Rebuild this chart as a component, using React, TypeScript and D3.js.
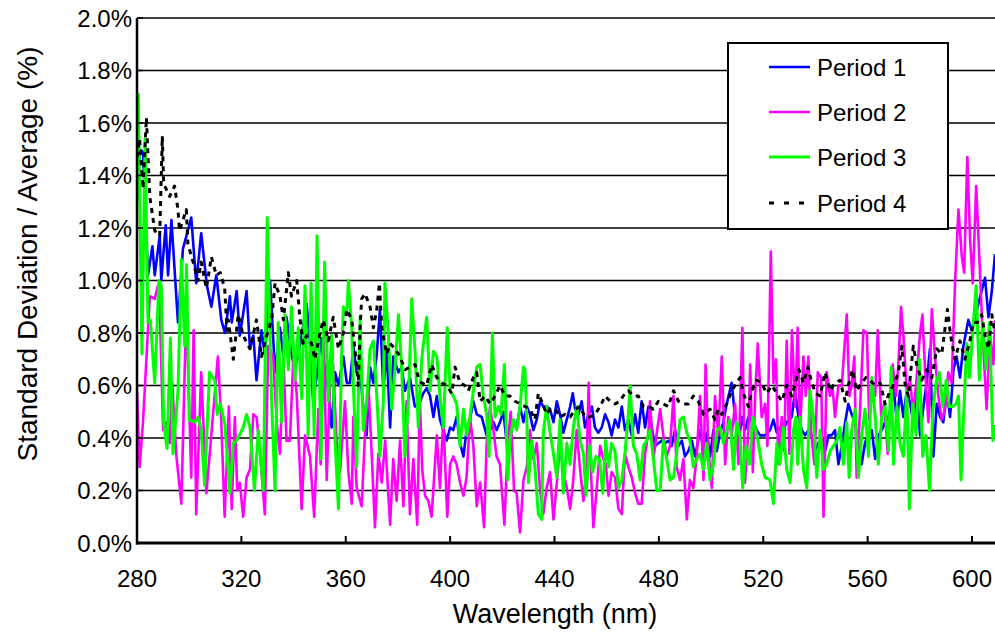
import React from "react";
import * as d3 from "d3";

type Pt = [number, number];

// Period 1 (blue)  [wavelength nm, std/avg %]
const period1: Pt[] = [
[280,1.30],[281,1.50],[282.3,1.49],[284.2,1.02],[285.9,1.13],[286.8,1.02],[288.7,1.17],[289.3,1.00],[291,1.21],[291.9,1.02],[293.2,1.23],[295.7,0.84],[297.6,1.12],[300.8,1.24],[302.7,0.99],[304.6,1.18],[306.8,0.98],[308.5,0.90],[310.4,1.02],[312.3,0.85],[313.7,0.80],[315.6,0.94],[316.3,0.84],[318.2,0.96],[319.4,0.79],[322.0,0.96],[323.3,0.74],[324.6,0.79],[325.8,0.62],[327.7,0.81],[329.0,0.72],[331.0,1.00],[332.9,0.65],[334.8,0.82],[336.1,0.71],[337.3,0.86],[339.2,0.72],[340.5,0.66],[342.4,0.75],[345.0,0.91],[346.3,0.76],[347.5,0.54],[348.8,0.63],[350.5,0.78],[351.4,0.70],[352.7,0.63],[354.6,0.44],[355.9,0.65],[357.2,0.60],[359.1,0.71],[360.4,0.61],[361.6,0.61],[362.9,0.75],[364.2,0.65],[365.5,0.65],[366.7,0.52],[368.0,0.41],[369.3,0.67],[370.6,0.61],[371.9,0.72],[373.1,0.89],[374.4,0.58],[375.7,0.74],[377.0,0.44],[378.2,0.71],[380.2,0.65],[381.4,0.67],[382.7,0.58],[384.6,0.63],[386.5,0.52],[387.8,0.52],[389.7,0.57],[391.0,0.59],[392.3,0.56],[393.6,0.48],[394.9,0.56],[396.1,0.47],[397.4,0.43],[398.7,0.39],[400.0,0.44],[401.2,0.43],[402.5,0.48],[403.8,0.38],[405.1,0.33],[406.3,0.43],[407.6,0.47],[408.9,0.54],[410.2,0.49],[412.1,0.48],[414.0,0.41],[415.3,0.43],[416.6,0.46],[417.8,0.43],[419.1,0.46],[420.4,0.50],[421.7,0.38],[422.9,0.41],[424.3,0.46],[425.5,0.44],[426.8,0.52],[428.1,0.46],[429.4,0.52],[430.6,0.49],[431.9,0.43],[433.2,0.47],[434.5,0.54],[435.7,0.52],[437.0,0.52],[438.3,0.51],[439.6,0.46],[440.9,0.54],[442.1,0.49],[443.4,0.42],[444.7,0.47],[446.0,0.52],[447.0,0.57],[447.9,0.51],[449.2,0.49],[450.4,0.54],[451.7,0.44],[453.0,0.49],[454.3,0.52],[455.5,0.44],[456.8,0.42],[458.1,0.44],[459.4,0.49],[460.7,0.46],[461.9,0.41],[463.2,0.47],[464.5,0.44],[465.8,0.52],[467.0,0.43],[468.3,0.47],[469.6,0.41],[470.9,0.49],[472.1,0.42],[473.4,0.54],[474.7,0.44],[476.0,0.52],[477.3,0.44],[478.5,0.37],[479.8,0.38],[481.1,0.39],[482.4,0.38],[483.6,0.39],[484.9,0.37],[486.2,0.43],[487.5,0.37],[488.8,0.39],[490.0,0.33],[491.3,0.35],[492.6,0.39],[493.9,0.33],[495.8,0.43],[497.1,0.35],[498.3,0.42],[499.6,0.33],[500.9,0.43],[502.2,0.35],[503.5,0.42],[504.7,0.46],[506.0,0.53],[507.9,0.61],[509.2,0.48],[510.5,0.38],[511.8,0.48],[513.0,0.43],[514.3,0.48],[516.2,0.46],[517.5,0.43],[518.8,0.41],[520.7,0.41],[522.6,0.43],[523.9,0.47],[525.2,0.42],[526.4,0.44],[527.7,0.43],[529.0,0.46],[530.9,0.48],[532.2,0.58],[533.5,0.48],[534.8,0.43],[536.0,0.41],[537.3,0.43],[538.6,0.41],[539.9,0.35],[541.1,0.38],[542.4,0.41],[543.7,0.35],[545.0,0.41],[546.2,0.41],[547.5,0.43],[548.8,0.30],[550.1,0.37],[551.4,0.46],[552.6,0.53],[553.9,0.49],[555.2,0.46],[556.5,0.37],[557.7,0.30],[559.0,0.38],[560.3,0.42],[561.6,0.43],[562.9,0.32],[564.1,0.41],[565.4,0.43],[566.7,0.46],[568.0,0.48],[569.2,0.53],[569.9,0.60],[571.2,0.46],[572.4,0.58],[573.7,0.48],[575.0,0.58],[576.3,0.53],[577.5,0.46],[578.8,0.58],[580.1,0.41],[581.4,0.52],[582.6,0.61],[583.9,0.74],[585.2,0.33],[586.5,0.53],[587.8,0.48],[589.0,0.46],[590.3,0.58],[591.6,0.48],[592.9,0.66],[594.1,0.71],[595.4,0.63],[596.7,0.75],[598.6,0.85],[599.9,0.81],[601.2,0.86],[602.4,0.91],[603.7,0.96],[605.0,1.01],[606.3,0.86],[607.6,0.96],[608.8,1.10]
];

// Period 2 (magenta)
const period2: Pt[] = [
[280,0.58],[281,0.29],[282.3,0.46],[284.9,0.94],[286.8,0.93],[288.0,0.98],[288.7,0.90],[290.0,0.43],[291.2,0.46],[292.5,0.38],[293.5,0.61],[295.1,0.33],[297.0,0.15],[298.9,0.90],[300.8,0.25],[301.7,0.81],[302.7,0.11],[304.6,0.65],[306.6,0.19],[311.0,0.71],[312.3,0.46],[313.6,0.10],[315.2,0.52],[316.3,0.13],[317.5,0.48],[318.4,0.20],[319.4,0.23],[320.7,0.10],[322.0,0.25],[323.3,0.28],[324.6,0.49],[325.8,0.48],[327.1,0.35],[329.0,0.11],[330.3,0.75],[332.2,0.71],[333.5,0.46],[334.8,0.34],[336.1,0.71],[337.3,0.39],[338.6,0.39],[339.9,0.70],[341.2,0.57],[343.1,0.13],[344.4,0.41],[346.3,0.33],[347.9,0.10],[349.5,0.51],[350.4,0.30],[351.6,0.79],[352.7,0.24],[354.6,0.79],[356.5,0.39],[357.8,0.27],[359.7,0.54],[361.0,0.27],[362.3,0.15],[362.9,0.48],[364.2,0.21],[366.1,0.14],[367.4,0.42],[368.7,0.60],[369.9,0.35],[371.2,0.06],[372.5,0.34],[373.8,0.23],[375.1,0.39],[377.0,0.07],[378.2,0.32],[379.5,0.16],[380.8,0.39],[382.1,0.14],[383.3,0.54],[384.6,0.11],[385.9,0.32],[387.4,0.07],[388.4,0.55],[389.3,0.28],[390.4,0.18],[391.7,0.16],[392.9,0.10],[394.9,0.41],[396.1,0.21],[397.4,0.48],[398.9,0.10],[400.0,0.30],[401.2,0.33],[402.5,0.30],[403.8,0.23],[405.1,0.18],[406.3,0.25],[407.6,0.48],[408.9,0.37],[410.2,0.14],[411.5,0.23],[413.0,0.06],[414.0,0.38],[415.3,0.52],[416.6,0.43],[417.8,0.33],[419.1,0.30],[420.8,0.07],[422.1,0.38],[423.2,0.50],[424.5,0.20],[425.5,0.19],[426.8,0.04],[428.1,0.24],[429.4,0.29],[430.6,0.43],[431.9,0.32],[433.2,0.38],[434.5,0.20],[435.7,0.11],[437.0,0.21],[438.3,0.27],[439.6,0.09],[440.9,0.23],[442.1,0.37],[443.4,0.27],[444.7,0.21],[446.0,0.13],[447.2,0.24],[448.5,0.43],[449.8,0.28],[451.1,0.16],[452.3,0.29],[453.1,0.61],[453.9,0.29],[454.9,0.06],[456.2,0.21],[457.5,0.37],[458.7,0.32],[459.7,0.30],[460.7,0.18],[461.9,0.27],[463.2,0.25],[464.5,0.13],[465.8,0.11],[467.0,0.34],[468.3,0.29],[469.6,0.25],[470.9,0.19],[472.1,0.15],[473.4,0.15],[474.7,0.34],[476.0,0.42],[476.6,0.54],[477.9,0.32],[479.2,0.42],[480.5,0.51],[481.7,0.41],[483.0,0.33],[484.3,0.37],[485.6,0.56],[486.8,0.29],[488.1,0.24],[489.4,0.32],[490.7,0.09],[491.9,0.24],[493.2,0.21],[494.5,0.33],[495.8,0.56],[497.1,0.24],[497.9,0.68],[499.0,0.35],[500.3,0.21],[501.5,0.56],[502.8,0.41],[504.1,0.71],[505.4,0.30],[506.6,0.48],[507.9,0.41],[509.2,0.53],[510.5,0.30],[512.0,0.82],[513.0,0.23],[514.3,0.43],[515.0,0.68],[516.0,0.27],[516.9,0.56],[517.9,0.76],[519.4,0.48],[520.7,0.53],[521.6,0.37],[522.9,1.11],[523.9,0.61],[524.9,0.70],[525.8,0.30],[527.1,0.48],[528.0,0.35],[529.0,0.77],[530.0,0.34],[531.0,0.81],[532.2,0.52],[533.2,0.82],[534.1,0.43],[535.4,0.71],[536.3,0.56],[537.3,0.71],[538.3,0.43],[539.6,0.30],[540.9,0.65],[542.2,0.63],[543.1,0.10],[544.3,0.65],[545.6,0.56],[546.5,0.60],[547.5,0.48],[548.8,0.60],[550.1,0.60],[552.0,0.87],[553.0,0.56],[553.9,0.60],[554.9,0.71],[555.8,0.25],[557.1,0.51],[558.4,0.81],[559.7,0.80],[560.6,0.47],[561.8,0.58],[562.9,0.56],[563.9,0.81],[565.2,0.48],[566.4,0.53],[567.7,0.34],[568.6,0.50],[569.6,0.68],[570.9,0.56],[571.8,0.68],[572.8,0.90],[573.7,0.79],[575.0,0.58],[576.3,0.62],[577.5,0.49],[578.8,0.63],[580.1,0.80],[581.0,0.87],[582.0,0.66],[583.3,0.46],[584.6,0.89],[585.8,0.71],[587.1,0.56],[588.4,0.47],[589.7,0.51],[590.9,0.65],[592.2,0.61],[593.5,0.99],[594.8,1.27],[596.1,1.09],[597.0,1.03],[598.2,1.47],[599.3,1.15],[600.3,0.99],[601.6,1.36],[602.8,1.09],[604.1,0.79],[605.6,0.51],[606.9,0.79],[608.2,0.68],[608.8,0.85]
];

// Period 3 (green)
const period3: Pt[] = [
[280,1.30],[280.5,1.71],[281.9,0.72],[283.1,1.54],[284.2,0.84],[285.1,0.85],[286.8,0.61],[288.4,1.00],[289.3,0.98],[290.2,0.46],[291.5,0.36],[292.8,0.78],[293.8,0.34],[295.7,0.58],[297.0,1.08],[298.3,0.75],[299.0,1.06],[300.0,0.47],[302.1,0.46],[303.4,0.48],[304.6,0.43],[305.9,0.22],[307.8,0.65],[309.8,0.62],[310.7,0.49],[311.9,0.53],[313.7,0.45],[315.6,0.19],[316.9,0.38],[318.2,0.39],[320.7,0.44],[322.0,0.49],[323.3,0.44],[325.0,0.20],[326.5,0.43],[328.4,0.20],[329.9,1.24],[331.6,0.54],[332.9,0.20],[334.1,0.84],[335.4,0.46],[336.7,0.87],[338.0,0.66],[339.2,0.90],[340.5,0.62],[341.8,0.82],[343.1,0.55],[344.4,0.98],[345.6,0.41],[346.7,0.99],[347.9,0.41],[349.0,1.17],[350.5,0.32],[351.9,1.07],[353.3,0.54],[354.6,0.79],[355.9,0.39],[357.2,0.13],[358.4,0.71],[359.1,0.90],[360.4,0.87],[361.0,1.00],[362.3,0.82],[362.9,0.60],[364.2,0.29],[365.5,0.86],[366.7,0.43],[368.0,0.54],[369.3,0.74],[370.6,0.77],[371.9,0.56],[373.1,0.33],[374.4,0.54],[375.0,0.99],[376.3,0.80],[377.6,0.51],[378.9,0.67],[380.2,0.87],[381.4,0.67],[382.7,0.33],[384.0,0.54],[385.3,0.93],[386.6,0.72],[387.8,0.44],[389.1,0.70],[391.0,0.86],[392.3,0.58],[393.6,0.73],[394.9,0.71],[396.1,0.56],[397.4,0.44],[398.9,0.82],[400.0,0.58],[401.2,0.56],[402.5,0.53],[403.8,0.37],[405.1,0.51],[406.3,0.41],[407.6,0.48],[408.9,0.58],[410.2,0.67],[411.5,0.68],[412.7,0.56],[414.0,0.49],[414.9,0.33],[416.2,0.80],[417.2,0.48],[418.5,0.52],[419.5,0.49],[420.8,0.68],[422.1,0.24],[423.0,0.40],[424.3,0.47],[425.5,0.43],[426.8,0.52],[428.1,0.67],[428.7,0.66],[429.4,0.47],[430.0,0.23],[431.3,0.39],[432.5,0.29],[433.8,0.11],[435.1,0.09],[435.7,0.42],[437.0,0.52],[438.3,0.42],[439.6,0.34],[440.9,0.25],[442.1,0.47],[443.4,0.19],[444.7,0.38],[446.0,0.30],[447.2,0.44],[448.5,0.52],[449.8,0.39],[451.1,0.34],[452.1,0.18],[453.4,0.37],[454.6,0.27],[455.9,0.33],[457.2,0.32],[458.5,0.19],[459.6,0.39],[460.7,0.29],[461.9,0.38],[463.2,0.35],[464.5,0.21],[465.8,0.24],[467.0,0.34],[468.3,0.49],[469.0,0.60],[470.2,0.37],[471.5,0.34],[472.8,0.24],[474.1,0.37],[475.3,0.39],[476.6,0.43],[477.9,0.32],[479.2,0.20],[480.5,0.20],[481.7,0.39],[483.0,0.32],[484.3,0.24],[485.6,0.25],[486.8,0.34],[488.1,0.47],[489.4,0.48],[490.7,0.42],[491.9,0.39],[493.2,0.29],[494.5,0.32],[495.8,0.34],[497.1,0.28],[498.3,0.38],[499.6,0.24],[500.9,0.30],[502.2,0.43],[503.5,0.44],[504.7,0.38],[506.0,0.43],[507.3,0.47],[508.6,0.28],[509.8,0.46],[511.1,0.41],[512.1,0.21],[513.4,0.37],[514.7,0.30],[516.0,0.48],[516.9,0.44],[518.1,0.38],[519.4,0.30],[520.7,0.25],[522.6,0.24],[523.9,0.15],[525.2,0.38],[526.4,0.30],[527.7,0.44],[529.0,0.28],[530.3,0.23],[531.6,0.43],[532.5,0.48],[533.2,0.30],[534.1,0.48],[535.4,0.28],[536.7,0.21],[537.9,0.58],[539.2,0.48],[540.5,0.25],[541.8,0.43],[543.1,0.28],[544.3,0.30],[545.6,0.35],[546.9,0.37],[548.2,0.39],[549.4,0.44],[550.7,0.30],[552.0,0.46],[552.9,0.25],[553.9,0.43],[555.2,0.51],[556.5,0.25],[557.7,0.41],[559.0,0.51],[560.3,0.33],[561.6,0.63],[562.9,0.48],[564.1,0.30],[565.4,0.48],[566.7,0.52],[568.0,0.35],[569.0,0.67],[569.9,0.30],[571.2,0.52],[572.4,0.38],[573.7,0.33],[575.0,0.58],[576.0,0.13],[577.3,0.53],[578.6,0.41],[579.8,0.70],[581.1,0.33],[582.4,0.41],[583.7,0.20],[585.0,0.51],[586.2,0.61],[587.5,0.65],[588.8,0.52],[590.1,0.62],[591.3,0.52],[592.6,0.52],[593.9,0.53],[594.8,0.56],[595.8,0.24],[596.7,0.47],[598.0,0.76],[599.0,0.63],[600.3,0.81],[601.6,0.98],[602.8,0.62],[604.1,0.84],[605.4,0.66],[606.7,0.84],[608.0,0.39],[608.8,0.45]
];

// Period 4 (black dashed)
const period4: Pt[] = [
[280,1.47],[281,1.54],[282.3,1.35],[283.6,1.62],[284.9,1.32],[286.8,1.19],[288.7,1.17],[289.7,1.55],[290.2,1.37],[292.5,1.32],[294.4,1.36],[295.7,1.27],[296.3,1.19],[298.9,1.27],[299.5,1.14],[301.5,1.07],[303.4,1.00],[304.6,1.07],[306.6,0.97],[308.5,1.09],[310.4,1.02],[311.9,1.03],[313.6,0.97],[314.5,0.81],[315.0,0.85],[316.9,0.70],[318.8,0.87],[320.7,0.79],[323.3,0.74],[325.8,0.85],[327.7,0.71],[329.7,0.79],[331.6,0.85],[332.9,0.99],[334.8,0.94],[336.1,0.85],[338.0,1.03],[339.2,0.94],[341.2,1.00],[342.4,0.86],[343.7,0.76],[345.0,0.79],[346.9,0.76],[348.2,0.70],[350.1,0.80],[351.4,0.85],[353.3,0.77],[355.2,0.86],[357.2,0.74],[359.1,0.80],[360.4,0.89],[362.3,0.85],[363.5,0.74],[364.8,0.60],[365.5,0.82],[366.1,0.93],[367.4,0.95],[369.3,0.90],[370.6,0.82],[371.9,0.89],[372.9,0.99],[373.8,0.82],[375.7,0.72],[377.0,0.76],[378.9,0.74],[380.8,0.71],[382.7,0.66],[384.6,0.67],[386.6,0.68],[387.8,0.63],[389.1,0.61],[391.0,0.60],[392.9,0.68],[394.9,0.63],[396.8,0.61],[398.7,0.60],[400.6,0.57],[401.9,0.67],[403.8,0.61],[405.7,0.60],[407.0,0.58],[408.9,0.63],[410.2,0.65],[411.5,0.54],[413.4,0.56],[415.3,0.53],[417.2,0.56],[419.1,0.60],[421.0,0.56],[422.9,0.56],[424.9,0.54],[426.8,0.53],[428.7,0.52],[430.6,0.51],[432.5,0.47],[433.8,0.57],[435.1,0.54],[437.0,0.49],[438.3,0.51],[440.2,0.51],[442.1,0.48],[444.0,0.49],[446.0,0.48],[447.9,0.51],[449.8,0.52],[451.7,0.48],[453.6,0.48],[455.5,0.49],[457.5,0.52],[459.4,0.56],[461.3,0.54],[463.2,0.53],[465.1,0.54],[467.0,0.57],[468.3,0.58],[470.2,0.56],[472.1,0.56],[474.1,0.52],[476.0,0.52],[477.9,0.51],[479.8,0.54],[481.7,0.53],[483.6,0.52],[485.6,0.58],[487.5,0.54],[489.4,0.53],[491.3,0.53],[493.2,0.56],[495.1,0.54],[497.1,0.49],[499.6,0.51],[501.5,0.47],[502.8,0.51],[504.1,0.49],[506.0,0.53],[507.9,0.58],[509.8,0.61],[511.1,0.63],[512.4,0.57],[514.3,0.52],[515.6,0.58],[517.5,0.62],[519.4,0.61],[521.3,0.57],[523.3,0.60],[525.2,0.57],[527.1,0.54],[529.0,0.60],[530.9,0.56],[533.7,0.66],[535.4,0.61],[537.1,0.67],[538.6,0.61],[540.1,0.57],[541.8,0.56],[543.7,0.65],[545.6,0.58],[547.5,0.61],[549.4,0.62],[551.4,0.54],[552.6,0.60],[554.2,0.66],[555.8,0.58],[557.7,0.61],[559.3,0.63],[560.9,0.62],[562.9,0.60],[564.8,0.61],[566.7,0.53],[568.6,0.58],[570.3,0.61],[571.8,0.65],[573.1,0.75],[574.3,0.61],[575.6,0.56],[577.5,0.75],[578.8,0.68],[580.7,0.62],[582.6,0.66],[584.6,0.63],[586.5,0.74],[588.4,0.72],[590.6,0.89],[591.8,0.79],[593.5,0.70],[595.4,0.77],[597.3,0.70],[599.0,0.76],[600.5,0.84],[602.1,0.84],[603.7,0.87],[605.0,0.79],[606.3,0.74],[607.6,0.87],[608.8,0.80]
];

const xTicks = [280, 320, 360, 400, 440, 480, 520, 560, 600];
const yTicks = [0, 0.2, 0.4, 0.6, 0.8, 1.0, 1.2, 1.4, 1.6, 1.8, 2.0];
const seriesNames = ["Period 1", "Period 2", "Period 3", "Period 4"];

const FONT = "'Liberation Sans', Arial, Helvetica, sans-serif";

export default function App() {
  const W = 995, H = 640;
  const left = 137, right = 995, top = 18, bottom = 543;
  const x = d3.scaleLinear().domain([280, 600]).range([137, 972]);
  const y = d3.scaleLinear().domain([0, 2]).range([bottom, top]);
  const line = d3.line<Pt>().x(d => x(d[0])).y(d => y(d[1]));

  const series = [
    { name: seriesNames[0], data: period1, color: "#0000FF", width: 2.6, dash: undefined as string | undefined, legDash: undefined as string | undefined },
    { name: seriesNames[1], data: period2, color: "#FF00FF", width: 2.6, dash: undefined, legDash: undefined },
    { name: seriesNames[2], data: period3, color: "#00FF00", width: 3, dash: undefined, legDash: undefined },
    { name: seriesNames[3], data: period4, color: "#000000", width: 3, dash: "5,5", legDash: "5,10" },
  ];

  const legX = 728, legY = 43, legW = 220, legH = 186;
  const rowY = [67, 112, 157, 203];

  return (
    <svg width={W} height={H} style={{ position: "absolute", left: 0, top: 0, background: "#fff" }} fontFamily={FONT}>
      <defs>
        <clipPath id="plotclip">
          <rect x={left} y={top - 2} width={right - left} height={bottom - top + 4} />
        </clipPath>
      </defs>
      <rect x={0} y={0} width={W} height={H} fill="#fff" />
      {/* gridlines */}
      {yTicks.filter(t => t > 0).map(t => (
        <line key={"g" + t} x1={left} x2={right} y1={y(t)} y2={y(t)} stroke="#000" strokeWidth={1.3} />
      ))}
      {/* series */}
      <g clipPath="url(#plotclip)">
        {series.map(s => (
          <path key={s.name} d={line(s.data) || ""} fill="none" stroke={s.color} strokeWidth={s.width}
            strokeDasharray={s.dash} strokeLinejoin="round" />
        ))}
      </g>
      {/* axes */}
      <line x1={left} x2={left} y1={top} y2={bottom + 1.5} stroke="#000" strokeWidth={2.5} />
      <line x1={left - 1} x2={right} y1={bottom} y2={bottom} stroke="#000" strokeWidth={3} />
      {xTicks.map(t => (
        <line key={"xt" + t} x1={x(t)} x2={x(t)} y1={bottom} y2={bottom - 7} stroke="#000" strokeWidth={2} />
      ))}
      {yTicks.map(t => (
        <line key={"yt" + t} x1={left} x2={left + 6} y1={y(t)} y2={y(t)} stroke="#000" strokeWidth={1.5} />
      ))}
      {/* tick labels */}
      {yTicks.map(t => (
        <text key={"yl" + t} x={132} y={y(t)} dy="0.36em" textAnchor="end" fontSize={24} fill="#000">
          {t.toFixed(1) + "%"}
        </text>
      ))}
      {xTicks.map(t => (
        <text key={"xl" + t} x={x(t)} y={587} textAnchor="middle" fontSize={24} fill="#000">
          {t}
        </text>
      ))}
      {/* axis titles */}
      <text x={555} y={623} textAnchor="middle" fontSize={27} fill="#000">Wavelength (nm)</text>
      <text transform="translate(37,254) rotate(-90)" textAnchor="middle" fontSize={28} fill="#000">
        Standard Deviation / Average (%)
      </text>
      {/* legend */}
      <rect x={legX} y={legY} width={legW} height={legH} fill="#fff" stroke="#000" strokeWidth={2} />
      {series.map((s, i) => (
        <g key={"leg" + s.name}>
          <line x1={769} x2={810} y1={rowY[i]} y2={rowY[i]} stroke={s.color} strokeWidth={s.width}
            strokeDasharray={s.legDash} />
          <text x={817} y={rowY[i]} dy="0.36em" fontSize={24} fill="#000">{s.name}</text>
        </g>
      ))}
    </svg>
  );
}
